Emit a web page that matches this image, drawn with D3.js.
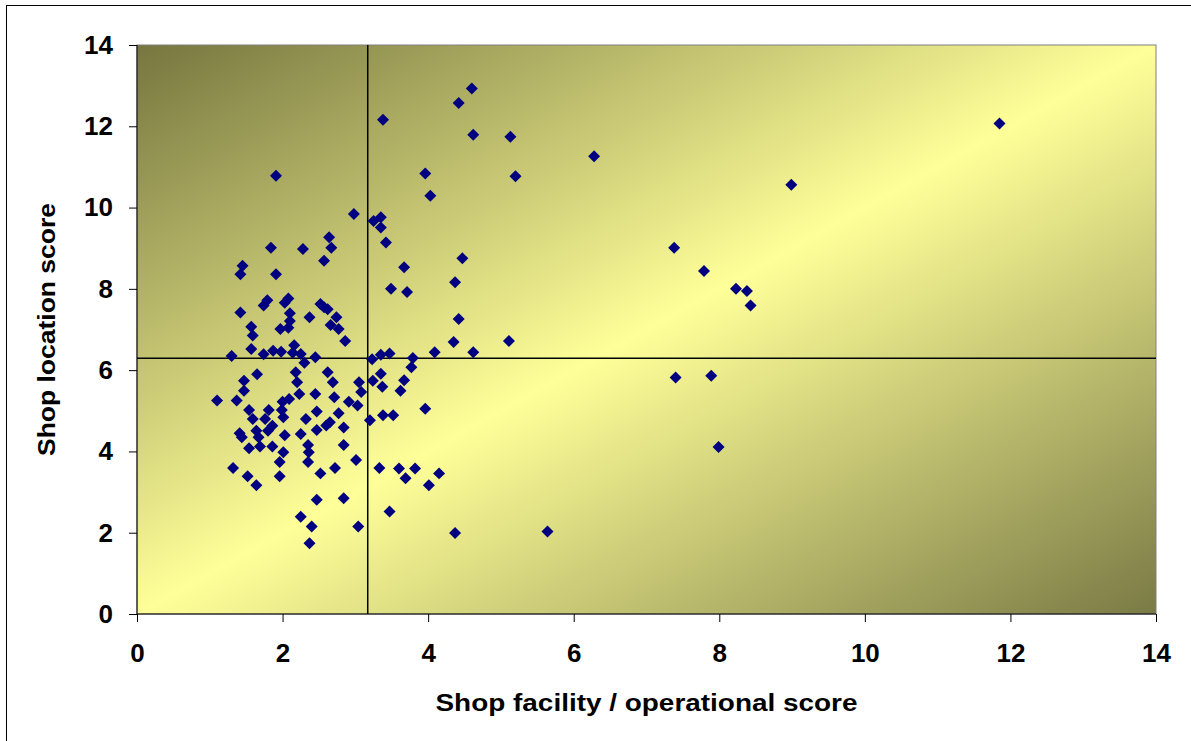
<!DOCTYPE html>
<html>
<head>
<meta charset="utf-8">
<script src="https://cdn.jsdelivr.net/npm/d3@7/dist/d3.min.js"></script>
<style>
  html, body { margin: 0; padding: 0; background: #fff; }
  svg { display: block; font-family: "Liberation Sans", Arial, sans-serif; }
  .tick text { font-weight: bold; font-size: 26px; fill: #000; }
  .axis-title { font-weight: bold; font-size: 23px; fill: #000; }
</style>
</head>
<body>
<div id="chart"></div>
<script>
// facility / operational score (x) for each shop
var facilityScore = [
  1.91, 2.98, 3.25, 3.35, 3.35, 2.64, 3.42, 1.84, 2.28, 2.67,
  2.57, 1.45, 1.42, 1.91, 3.49, 1.79, 1.74, 2.08, 2.03, 1.42,
  2.52, 2.57, 2.62, 2.10, 2.37, 2.74, 1.57, 2.10, 1.97, 2.08,
  2.66, 2.77, 1.59, 2.86, 1.57, 2.16, 1.30, 1.74, 1.87, 1.98,
  2.14, 2.25, 2.45, 3.23, 3.35, 3.47, 4.60, 4.42, 3.38, 4.62,
  5.13, 3.96, 5.20, 4.03, 4.47, 3.67, 4.37, 3.71, 4.42, 4.35,
  5.11, 4.09, 4.62, 3.79, 3.77, 3.67, 3.62, 3.96, 3.82, 4.15,
  3.69, 4.01, 4.37, 5.64, 2.30, 1.65, 2.18, 2.62, 1.47, 2.20,
  2.69, 3.05, 3.24, 3.35, 3.37, 1.47, 3.08, 1.10, 1.37, 2.23,
  2.45, 2.71, 2.09, 2.00, 2.91, 3.03, 1.54, 1.99, 1.81, 2.47,
  2.77, 1.59, 1.76, 2.01, 2.32, 3.20, 3.38, 3.52, 2.60, 2.65,
  2.84, 1.86, 1.80, 1.64, 2.47, 1.41, 1.44, 1.67, 2.03, 2.25,
  1.54, 1.69, 1.86, 2.35, 2.84, 2.01, 2.36, 1.96, 2.35, 3.01,
  1.32, 1.52, 1.64, 1.96, 2.52, 2.72, 3.33, 3.60, 2.47, 2.84,
  3.47, 2.25, 2.40, 3.04, 2.37, 6.28, 8.99, 7.38, 7.79, 8.23,
  8.38, 8.43, 7.40, 7.89, 7.99, 11.85
];

// location score (y) for the same shops
var locationScore = [
  10.78, 9.84, 9.67, 9.76, 9.51, 9.27, 9.14, 9.01, 8.98, 9.01,
  8.69, 8.57, 8.36, 8.36, 8.00, 7.72, 7.59, 7.76, 7.66, 7.42,
  7.63, 7.55, 7.50, 7.40, 7.30, 7.30, 7.07, 7.21, 7.01, 7.04,
  7.11, 7.01, 6.85, 6.72, 6.52, 6.61, 6.35, 6.39, 6.48, 6.45,
  6.43, 6.40, 6.32, 6.27, 6.38, 6.41, 12.93, 12.57, 12.16, 11.79,
  11.74, 10.84, 10.77, 10.29, 8.75, 8.53, 8.16, 7.92, 7.26, 6.69,
  6.72, 6.44, 6.44, 6.30, 6.07, 5.75, 5.49, 5.05, 3.58, 3.46,
  3.34, 3.17, 1.99, 2.03, 6.18, 5.90, 5.95, 5.95, 5.74, 5.70,
  5.70, 5.70, 5.74, 5.91, 5.59, 5.49, 5.46, 5.25, 5.25, 5.41,
  5.41, 5.33, 5.29, 5.22, 5.22, 5.13, 5.02, 5.02, 5.02, 4.98,
  4.94, 4.80, 4.80, 4.84, 4.80, 4.77, 4.89, 4.89, 4.64, 4.72,
  4.59, 4.63, 4.51, 4.51, 4.53, 4.45, 4.35, 4.35, 4.40, 4.43,
  4.08, 4.12, 4.12, 4.16, 4.16, 3.98, 3.98, 3.74, 3.74, 3.79,
  3.59, 3.39, 3.17, 3.39, 3.46, 3.59, 3.59, 3.58, 2.81, 2.85,
  2.52, 2.39, 2.15, 2.15, 1.74, 11.26, 10.56, 9.01, 8.44, 8.00,
  7.95, 7.59, 5.82, 5.86, 4.11, 12.07
];

// reference lines splitting the quadrants
var facilityRef = 3.17;
var locationRef = 6.29;

var xTicks = [0, 2, 4, 6, 8, 10, 12, 14];
var yTicks = [0, 2, 4, 6, 8, 10, 12, 14];

var xTitle = "Shop facility / operational score";
var yTitle = "Shop location score";

var render = function() {
  var width = 1191;
  var height = 741;
  var margins = { top: 45, right: 35, bottom: 127, left: 137 };
  var chartWidth = width - margins.left - margins.right;
  var chartHeight = height - margins.top - margins.bottom;

  var points = facilityScore.map((x, i) => ({ x: x, y: locationScore[i] }));

  var svg = d3.select("#chart")
    .append("svg")
    .attr("width", width)
    .attr("height", height);

  // outer chart frame (only top/left edges fall inside the picture)
  svg.append("rect")
    .attr("x", 6.5)
    .attr("y", 5.5)
    .attr("width", width + 20)
    .attr("height", height + 20)
    .attr("fill", "#fff")
    .attr("stroke", "#000")
    .attr("stroke-width", 1);

  var defs = svg.append("defs");
  var grad = defs.append("linearGradient")
    .attr("id", "plot-bg")
    .attr("x1", 0).attr("y1", 0)
    .attr("x2", 1).attr("y2", 1);
  grad.append("stop").attr("offset", "0%").attr("stop-color", "#76763f");
  grad.append("stop").attr("offset", "50%").attr("stop-color", "#ffff99");
  grad.append("stop").attr("offset", "100%").attr("stop-color", "#7a7a45");

  var chart = svg.append("g")
    .attr("transform", `translate(${margins.left},${margins.top})`);

  var xScale = d3.scaleLinear().domain([0, 14]).range([0, chartWidth]);
  var yScale = d3.scaleLinear().domain([0, 14]).range([chartHeight, 0]);

  chart.append("rect")
    .attr("width", chartWidth)
    .attr("height", chartHeight)
    .attr("fill", "url(#plot-bg)")
    .attr("stroke", "#808080")
    .attr("stroke-width", 1);

  // axes
  var xAxis = d3.axisBottom(xScale)
    .tickValues(xTicks)
    .tickSize(8)
    .tickPadding(22)
    .tickFormat(d => d);

  var yAxis = d3.axisLeft(yScale)
    .tickValues(yTicks)
    .tickSize(8)
    .tickPadding(16)
    .tickFormat(d => d);

  chart.append("g")
    .attr("class", "x axis")
    .attr("transform", `translate(0,${chartHeight})`)
    .call(xAxis)
    .call(g => g.select(".domain").attr("stroke", "#000").attr("d", `M0,0H${chartWidth}`))
    .call(g => g.selectAll(".tick line").attr("stroke", "#000"))
    .call(g => g.selectAll(".tick text").attr("font-size", null).attr("font-family", null));

  chart.append("g")
    .attr("class", "y axis")
    .call(yAxis)
    .call(g => g.select(".domain").attr("stroke", "#000").attr("d", `M0,0V${chartHeight}`))
    .call(g => g.selectAll(".tick line").attr("stroke", "#000"))
    .call(g => g.selectAll(".tick text").attr("font-size", null).attr("font-family", null));

  // quadrant reference lines
  chart.append("line")
    .attr("x1", xScale(facilityRef)).attr("x2", xScale(facilityRef))
    .attr("y1", 0).attr("y2", chartHeight)
    .attr("stroke", "#000").attr("stroke-width", 1.5);

  chart.append("line")
    .attr("x1", 0).attr("x2", chartWidth)
    .attr("y1", yScale(locationRef)).attr("y2", yScale(locationRef))
    .attr("stroke", "#000").attr("stroke-width", 1.5);

  // diamonds
  var diamond = d3.symbol().type(d3.symbolSquare).size(72);

  chart.append("g")
    .attr("class", "points")
    .selectAll("path")
    .data(points)
    .enter()
    .append("path")
    .attr("d", diamond)
    .attr("transform", d => `translate(${xScale(d.x)},${yScale(d.y)}) rotate(45)`)
    .attr("fill", "#000080");

  // axis titles (stretched a little, like the original)
  svg.append("text")
    .attr("class", "axis-title")
    .attr("x", margins.left + chartWidth / 2)
    .attr("y", 711)
    .attr("text-anchor", "middle")
    .attr("textLength", 422)
    .attr("lengthAdjust", "spacingAndGlyphs")
    .text(xTitle);

  svg.append("text")
    .attr("class", "axis-title")
    .attr("transform", `translate(55,${margins.top + chartHeight / 2}) rotate(-90)`)
    .attr("text-anchor", "middle")
    .attr("textLength", 253)
    .attr("lengthAdjust", "spacingAndGlyphs")
    .text(yTitle);
};

render();
</script>
</body>
</html>
